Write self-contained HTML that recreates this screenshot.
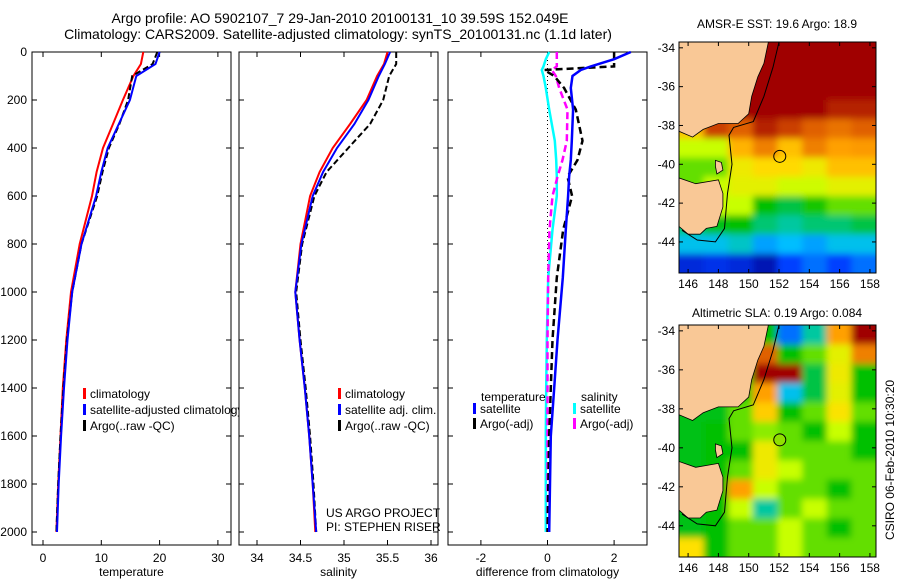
<!DOCTYPE html>
<html><head><meta charset="utf-8"><style>
body{margin:0;background:#fff;}
svg text{font-family:"Liberation Sans",sans-serif;fill:#000;}
</style></head><body>
<svg id="fig" width="900" height="580" xmlns="http://www.w3.org/2000/svg">
<defs>
<filter id="blur" x="-5%" y="-5%" width="110%" height="110%"><feGaussianBlur stdDeviation="3.5"/></filter>
<clipPath id="clip1"><rect x="679" y="42" width="197" height="231"/></clipPath>
<clipPath id="clip2"><rect x="679" y="325" width="197" height="232"/></clipPath>
</defs>
<rect width="900" height="580" fill="#fff"/>
<text x="340" y="23" font-size="14" text-anchor="middle">Argo profile: AO 5902107_7 29-Jan-2010 20100131_10 39.59S 152.049E</text>
<text x="338" y="39" font-size="14" text-anchor="middle">Climatology: CARS2009. Satellite-adjusted climatology: synTS_20100131.nc (1.1d later)</text>
<text x="777" y="28" font-size="12" text-anchor="middle">AMSR-E SST: 19.6 Argo: 18.9</text>
<text x="777" y="317" font-size="12" text-anchor="middle">Altimetric SLA: 0.19 Argo: 0.084</text>
<text transform="translate(894,460) rotate(-90)" font-size="12" text-anchor="middle">CSIRO 06-Feb-2010 10:30:20</text>
<g id="g"></g>
</svg>
<script>
// ---------- profile data ----------
const depths = [0,50,100,200,300,400,500,600,800,1000,1200,1400,1600,1800,2000];
const tempClim = [17.2,16.8,15.5,13.7,12.0,10.3,9.2,8.4,6.3,4.8,4.0,3.4,3.0,2.6,2.3];
const tempSat  = [20.0,19.3,16.0,14.9,13.0,11.1,10.0,9.1,6.6,5.0,4.2,3.6,3.1,2.7,2.4];
const tempArgo = [19.6,18.8,15.3,14.6,13.1,11.3,10.2,9.3,6.6,5.0,4.1,3.5,3.0,2.6,2.3];
const salClim = [35.50,35.46,35.38,35.26,35.07,34.87,34.72,34.61,34.50,34.44,34.49,34.55,34.60,34.64,34.67];
const salSat  = [35.53,35.47,35.40,35.28,35.12,34.92,34.76,34.64,34.51,34.44,34.49,34.55,34.60,34.64,34.68];
const salArgo = [35.60,35.60,35.52,35.45,35.30,35.05,34.80,34.66,34.52,34.45,34.50,34.56,34.61,34.65,34.68];
const diffDepths = [0,30,60,75,100,150,240,370,450,520,600,740,940,1200,1400,1600,2000];
const dTempSat  = [2.5,2.0,1.3,1.0,0.75,0.7,0.77,0.73,0.7,0.65,0.62,0.55,0.46,0.3,0.2,0.1,0.05];
const dTempArgo = [2.0,2.0,2.0,-0.1,0.2,0.5,0.85,1.05,0.9,0.6,0.74,0.47,0.28,0.15,0.1,0.05,0.0];
const dSalSat   = [0.05,-0.05,-0.12,-0.17,-0.12,-0.05,0.05,0.22,0.26,0.28,0.28,0.15,0.02,-0.02,-0.04,-0.05,-0.05];
const dSalArgo  = [0.28,0.28,0.28,0.13,0.25,0.35,0.6,0.58,0.45,0.3,0.15,0.06,0.02,0.0,0.0,0.0,0.0];
// ---------- map data (rows lat -34..-45, cols lon 145.4..158.4) ----------
const sstGrid = [
[1,1,1,1,1,1,1,1],[1,1,1,1,1,1,1,1],[1,1,1,1,1,1,1,1],[1,1,1,1,1,1,0.95,0.95],
[0.7,0.9,0.85,0.95,0.9,0.85,0.82,0.85],[0.55,0.55,0.72,0.8,0.7,0.8,0.75,0.76],
[0.5,0.5,0.62,0.66,0.66,0.62,0.7,0.7],[0.5,0.55,0.6,0.6,0.56,0.56,0.6,0.6],
[0.5,0.55,0.55,0.45,0.42,0.46,0.5,0.5],[0.4,0.44,0.45,0.4,0.38,0.4,0.4,0.42],
[0.3,0.3,0.34,0.25,0.28,0.25,0.3,0.3],[0.1,0.12,0.1,0.05,0.15,0.2,0.15,0.2]];
const slaGrid = [
[0.45,0.45,0.45,0.45,0.2,0.38,0.75,1],[0.44,0.44,0.45,0.85,0.45,0.5,0.6,0.8],
[0.44,0.44,0.46,1,1,0.42,0.62,0.45],[0.44,0.44,0.46,0.75,0.3,0.42,0.6,0.45],
[0.44,0.44,0.5,0.68,0.45,0.5,0.64,0.5],[0.44,0.45,0.5,0.52,0.5,0.45,0.55,0.45],
[0.44,0.45,0.45,0.62,0.5,0.5,0.5,0.45],[0.44,0.45,0.5,0.62,0.55,0.5,0.5,0.5],
[0.44,0.45,0.75,0.55,0.5,0.5,0.45,0.5],[0.44,0.45,0.55,0.38,0.5,0.55,0.5,0.5],
[0.44,0.45,0.5,0.5,0.55,0.5,0.45,0.5],[0.65,0.45,0.5,0.5,0.55,0.5,0.5,0.5]];
const mainland = [[145.4,-33.7],[151.3,-33.7],[151.0,-34.8],[150.6,-35.5],[150.2,-36.5],[150.0,-37.4],[149.3,-37.9],[148,-37.9],[147,-38.2],[146.3,-38.6],[145.4,-38.3]];
const tasmania = [[145.4,-40.7],[146.5,-41.0],[148.0,-40.8],[148.3,-41.5],[148.3,-42.2],[147.9,-43.2],[147.2,-43.3],[146.8,-43.6],[146,-43.6],[145.4,-43.2]];
const flinders = [[147.8,-39.8],[148.2,-39.9],[148.3,-40.3],[147.9,-40.5],[147.8,-40.1]];
const shelf = [[152.0,-33.7],[151.6,-35],[151.0,-36.5],[150.3,-37.8],[149,-38.1],[148.7,-38.5],[148.9,-40],[148.6,-41.5],[148.4,-43.3],[147.8,-44],[146.6,-43.9],[145.6,-43.4]];
const floatPos = [152.05,-39.59];

const NS='http://www.w3.org/2000/svg';
const G=document.getElementById('g');
function mk(tag,attrs,parent){const e=document.createElementNS(NS,tag);for(const k in attrs)e.setAttribute(k,attrs[k]);(parent||G).appendChild(e);return e;}
function txt(x,y,s,size,anchor,parent){const t=mk('text',{x:x,y:y,'font-size':size,'text-anchor':anchor||'start'},parent);t.textContent=s;return t;}

const yD=d=>52+d*0.24;
const PTOP=52,PBOT=545;
function panel(x0,x1,name,xs,ticks,labels,xlabel){
  const g=mk('g',{});
  
  
  mk('rect',{x:x0,y:PTOP,width:x1-x0,height:PBOT-PTOP,fill:'#fff',stroke:'#000','stroke-width':1},g);
  ticks.forEach((v,i)=>{const x=xs(v);
    mk('line',{x1:x,y1:PBOT,x2:x,y2:PBOT-5,stroke:'#000'},g);
    mk('line',{x1:x,y1:PTOP,x2:x,y2:PTOP+5,stroke:'#000'},g);
    const t=txt(x,562,labels[i],12,'middle',g);
    
    
  });
  for(let d=0;d<=2000;d+=200){const y=yD(d);
    mk('line',{x1:x0,y1:y,x2:x0+5,y2:y,stroke:'#000'},g);
    mk('line',{x1:x1,y1:y,x2:x1-5,y2:y,stroke:'#000'},g);}
  const xl=txt((x0+x1)/2,576,xlabel,12,'middle',g);
  
  
  return g;
}
function line(g,xs,vals,ds,color,w,dash,name){
  const p=vals.map((v,i)=>xs(v).toFixed(1)+','+yD(ds[i]).toFixed(1)).join(' ');
  const e=mk('polyline',{points:p,fill:'none',stroke:color,'stroke-width':w},g);
  if(dash)e.setAttribute('stroke-dasharray',dash);
  
  
}
function legend(g,x,y,color,label){
  mk('rect',{x:x,y:y-9,width:3,height:11,fill:color},g);
  const t=txt(x+7,y+1,label,12,'start',g);
  
  
}
// Panel 1 temperature
const xT=v=>43+v*5.83;
const p1=panel(32,231,'temperature-panel',xT,[0,10,20,30],['0','10','20','30'],'temperature');
for(let d=0;d<=2000;d+=200){const t=txt(27,yD(d)+4,String(d),12,'end',p1);
  
  }
line(p1,xT,tempClim,depths,'#f00',2,null,'temp-climatology-line');
line(p1,xT,tempArgo,depths,'#000',2,'6,3','temp-argo-line');
line(p1,xT,tempSat,depths,'#00f',2,null,'temp-satellite-line');
legend(p1,83,397,'#f00','climatology');
legend(p1,83,413,'#00f','satellite-adjusted climatology');
legend(p1,83,429,'#000','Argo(..raw -QC)');
// Panel 2 salinity
const xS=v=>257+(v-34)*87;
const p2=panel(239,438,'salinity-panel',xS,[34,34.5,35,35.5,36],['34','34.5','35','35.5','36'],'salinity');
line(p2,xS,salClim,depths,'#f00',2,null,'sal-climatology-line');
line(p2,xS,salArgo,depths,'#000',2,'6,3','sal-argo-line');
line(p2,xS,salSat,depths,'#00f',2,null,'sal-satellite-line');
legend(p2,338,397,'#f00','climatology');
legend(p2,338,413,'#00f','satellite adj. clim.');
legend(p2,338,429,'#000','Argo(..raw -QC)');
const c1=txt(326,517,'US ARGO PROJECT',12,'start',p2);
const c2=txt(326,531,'PI: STEPHEN RISER',12,'start',p2);
// Panel 3 diff
const xDf=v=>547.5+v*33.3;
const p3=panel(448,647,'difference-panel',xDf,[-2,0,2],['-2','0','2'],'difference from climatology');
const zl=mk('line',{x1:xDf(0),y1:PTOP,x2:xDf(0),y2:yD(950),stroke:'#000','stroke-width':1,'stroke-dasharray':'1,3'},p3);

line(p3,xDf,dSalSat,diffDepths,'#0ff',2.5,null,'sal-satellite-diff-line');
line(p3,xDf,dSalArgo,diffDepths,'#f0f',2.5,'7,4','sal-argo-diff-line');
line(p3,xDf,dTempArgo,diffDepths,'#000',2.5,'7,4','temp-argo-diff-line');
line(p3,xDf,dTempSat,diffDepths,'#00f',2.5,null,'temp-satellite-diff-line');
const lt=txt(481,401,'temperature',12,'start',p3);
const ls=txt(581,401,'salinity',12,'start',p3);
legend(p3,473,412,'#00f','satellite');
legend(p3,473,427,'#000','Argo(-adj)');
legend(p3,573,412,'#0ff','satellite');
legend(p3,573,427,'#f0f','Argo(-adj)');

// ---------- maps ----------
const cstops=[[0,[0,0,143]],[0.15,[0,64,255]],[0.28,[0,190,255]],[0.38,[0,200,160]],[0.45,[0,192,0]],[0.55,[200,255,0]],[0.65,[255,224,0]],[0.75,[255,160,0]],[0.85,[224,96,0]],[1,[160,0,0]]];
function cmap(v){for(let i=1;i<cstops.length;i++){if(v<=cstops[i][0]){const a=cstops[i-1],b=cstops[i];const t=(v-a[0])/(b[0]-a[0]);
  return 'rgb('+a[1].map((c,k)=>Math.round(c+(b[1][k]-c)*t)).join(',')+')';}}return 'rgb(160,0,0)';}
function mapPanel(name,top,bot,latTop,latBot,grid,circleFill,clipId){
  const g=mk('g',{});
  
  
  const L=679,R=876,lon0=145.4,lon1=158.4;
  const X=lon=>L+(lon-lon0)*(R-L)/(lon1-lon0);
  const Y=lat=>top+(latTop-lat)*(bot-top)/(latTop-latBot);
  const cw=(R-L)/grid[0].length,ch=(bot-top)/grid.length;
  const cg=mk('g',{'clip-path':'url(#'+clipId+')'},g);
  const fg=mk('g',{filter:'url(#blur)'},cg);
  grid.forEach((row,r)=>row.forEach((v,c)=>{
    const x=L+c*cw-(c===0?12:0), y=top+r*ch-(r===0?12:0);
    const w=cw+0.6+(c===0?12:0)+(c===row.length-1?12:0), h=ch+0.6+(r===0?12:0)+(r===grid.length-1?12:0);
    const e=mk('rect',{x:x,y:y,width:w,height:h,fill:cmap(v)},fg);
    
    
  }));
  const poly=pts=>pts.map(p=>X(p[0]).toFixed(1)+','+Y(p[1]).toFixed(1)).join(' ');
  [mainland,tasmania,flinders].forEach(pts=>{const e=mk('polygon',{points:poly(pts),fill:'#f9c896',stroke:'#000','stroke-width':0.8},cg);
    });
  const sh=mk('polyline',{points:poly(shelf),fill:'none',stroke:'#000','stroke-width':1},cg);
  
  const ci=mk('circle',{cx:X(floatPos[0]),cy:Y(floatPos[1]),r:6,fill:circleFill,stroke:'#000','stroke-width':1},g);
  
  mk('rect',{x:L,y:top,width:R-L,height:bot-top,fill:'none',stroke:'#000','stroke-width':1},g);
  for(let lat=-34;lat>=-44;lat-=2){const y=Y(lat);
    mk('line',{x1:L,y1:y,x2:L+4,y2:y,stroke:'#000'},g);mk('line',{x1:R,y1:y,x2:R-4,y2:y,stroke:'#000'},g);
    const t=txt(L-4,y+4,String(lat),12,'end',g);}
  for(let lon=146;lon<=158;lon+=2){const x=X(lon);
    mk('line',{x1:x,y1:bot,x2:x,y2:bot-4,stroke:'#000'},g);mk('line',{x1:x,y1:top,x2:x,y2:top+4,stroke:'#000'},g);
    const t=txt(x,bot+15,String(lon),12,'middle',g);}
}
mapPanel('sst-map',42,273,-33.7,-45.6,sstGrid,'none','clip1');
mapPanel('sla-map',325,557,-33.7,-45.6,slaGrid,'#90e000','clip2');
</script>
</body></html>
